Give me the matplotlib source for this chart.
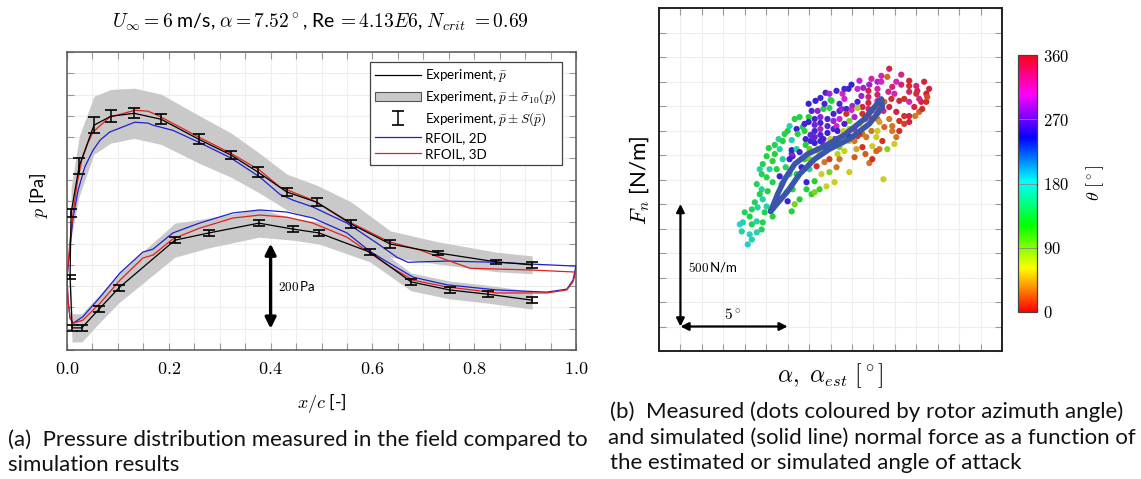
import numpy as np
import matplotlib.pyplot as plt
from matplotlib.patches import Patch
from matplotlib.lines import Line2D
from matplotlib.ticker import MultipleLocator, FuncFormatter
from matplotlib.cm import ScalarMappable
from matplotlib.colors import Normalize

plt.rcParams['font.family'] = ['Lato', 'DejaVu Sans']
plt.rcParams['mathtext.fontset'] = 'cm'

# ---- (a) pressure distribution, x/c and p [Pa] (arbitrary offset) ----
# experiment, suction side, leading edge -> trailing edge
x_exp_up = [0.008, 0.024, 0.053, 0.086, 0.132, 0.185, 0.259, 0.322, 0.375,
            0.432, 0.491, 0.558, 0.635, 0.729, 0.843, 0.914]
p_exp_up = [322, 432, 528, 549, 556, 542, 495, 458, 418, 371, 347, 296,
            249, 228, 207, 200]
sig_up = [59, 70, 68, 63, 59, 59, 56, 52, 47, 42, 40, 52, 31, 26, 23, 21]
err_up = [9, 19, 19, 14, 12, 12, 12, 9, 12, 9, 9, 9, 9, 5, 5, 7]

# experiment, pressure side, leading edge -> trailing edge
x_exp_lo = [0.006, 0.010, 0.029, 0.063, 0.102, 0.212, 0.279, 0.377, 0.444,
            0.495, 0.595, 0.676, 0.752, 0.827, 0.914]
p_exp_lo = [171, 52, 52, 96, 146, 258, 275, 298, 284, 275, 230, 160, 141,
            131, 117]
sig_lo = [35, 33, 33, 33, 35, 40, 35, 33, 26, 26, 23, 21, 21, 21, 21]
err_lo = [5, 7, 7, 7, 7, 7, 7, 7, 7, 7, 7, 7, 7, 7, 7]

# RFOIL 2D
x_rf2_up = [0.0, 0.006, 0.012, 0.022, 0.035, 0.051, 0.065, 0.084, 0.133, 0.159,
            0.169, 0.208, 0.259, 0.322, 0.379, 0.418, 0.444, 0.483, 0.550,
            0.609, 0.648, 0.670, 0.747, 0.845, 0.910, 1.0]
p_rf2_up = [169, 242, 312, 376, 430, 469, 493, 512, 535, 533, 528, 516, 488,
            451, 406, 366, 352, 336, 298, 251, 218, 206, 209, 206, 202, 197]
x_rf2_lo = [0.0, 0.002, 0.006, 0.012, 0.031, 0.065, 0.104, 0.149, 0.169, 0.208,
            0.260, 0.326, 0.379, 0.432, 0.483, 0.550, 0.595, 0.629, 0.680,
            0.747, 0.845, 0.943, 0.982, 0.994, 1.0]
p_rf2_lo = [169, 117, 75, 63, 78, 124, 181, 230, 237, 275, 298, 322, 329, 324,
            310, 275, 232, 207, 171, 153, 141, 136, 143, 164, 197]

# RFOIL 3D
x_rf3_up = [0.0, 0.006, 0.012, 0.020, 0.029, 0.041, 0.051, 0.084, 0.133, 0.159,
            0.177, 0.259, 0.322, 0.379, 0.418, 0.483, 0.556, 0.633, 0.693,
            0.747, 0.792, 0.910, 1.0]
p_rf3_up = [169, 258, 322, 392, 446, 486, 512, 547, 563, 561, 552, 500, 462,
            422, 383, 352, 300, 254, 235, 211, 192, 188, 183]
x_rf3_lo = x_rf2_lo
p_rf3_lo = [169, 117, 75, 63, 70, 110, 164, 216, 223, 261, 286, 310, 317, 312,
            298, 265, 228, 200, 164, 148, 134, 134, 141, 160, 183]

# ---- (b) normal force vs angle of attack ----
# measured: alpha [deg], Fn [N/m], rotor azimuth theta [deg]
alpha_meas = [5.02, 5.30, 4.84, 5.16, 5.49, 4.79, 5.02, 5.63, 5.30, 5.72,
              5.07, 4.79, 4.56, 4.70, 4.84, 4.47, 4.60, 5.02, 4.93, 5.30,
              4.33, 4.00, 4.23, 3.91, 4.33, 4.56, 4.84, 4.79, 4.56, 4.23,
              4.33, 4.14, 3.86, 3.77, 5.95, 6.23, 6.00, 6.33, 6.56, 6.19,
              6.88, 6.88, 7.26, 7.12, 7.26, 7.49, 7.81, 8.19, 6.65, 7.02,
              7.35, 7.72, 7.95, 7.58, 7.95, 8.28, 5.77, 6.23, 6.42, 6.19,
              6.00, 6.42, 6.47, 5.58, 5.77, 6.19, 5.40, 5.12, 5.63, 6.19,
              6.42, 6.98, 7.30, 7.53, 7.77, 8.28, 8.00, 7.95, 7.67, 6.98,
              6.98, 7.26, 7.26, 7.26, 7.26, 7.26, 7.53, 7.53, 7.53, 7.53,
              7.53, 6.84, 6.84, 7.86, 7.86, 7.86, 8.14, 8.14, 8.14, 8.42,
              8.42, 8.42, 10.74, 10.37, 10.65, 11.30, 11.67, 11.67, 12.37, 12.00,
              11.07, 11.30, 10.19, 10.37, 8.98, 9.26, 9.53, 9.77, 11.67, 12.00,
              12.47, 10.84, 11.21, 11.67, 12.23, 12.47, 10.70, 10.51, 9.77, 9.77,
              9.77, 9.77, 10.19, 10.19, 10.19, 10.19, 10.19, 10.19, 9.44, 9.26,
              9.02, 9.49, 9.49, 8.65, 8.51, 8.05, 8.74, 8.74, 11.07, 11.44,
              11.67, 12.14, 11.95, 10.74, 11.21, 11.67, 10.28, 10.51, 10.88, 11.21,
              9.67, 9.91, 10.19, 9.49, 8.88, 9.26, 9.67, 10.14, 8.28, 8.56,
              8.88, 9.49, 9.95, 10.28, 10.65, 10.42, 11.07, 10.98, 10.47, 8.88,
              9.81, 10.14, 9.12, 8.65, 8.42, 8.33, 7.77, 7.95, 8.19, 8.88,
              9.12, 9.35, 8.65, 8.98, 9.26, 6.79, 6.56, 7.02, 5.91, 6.09,
              6.70, 6.56, 7.12, 8.56, 8.84, 9.91, 12.05, 12.60, 12.51, 12.28,
              6.79, 6.79, 7.07, 7.07, 7.40, 7.67, 7.67, 7.99, 8.33, 8.33,
              8.60, 8.84, 9.12, 9.12, 9.35, 9.63, 9.91, 9.91, 10.47, 10.74,
              10.98, 11.44, 11.91, 12.14, 10.88, 9.35, 9.81, 8.65, 7.95, 7.72,
              7.40, 6.33, 6.09, 5.86, 5.40, 4.70, 6.09, 7.02, 7.49, 8.42,
              9.21, 9.63, 9.95, 10.88, 11.44]
fn_meas = [795, 775, 763, 742, 742, 722, 709, 713, 689, 681,
           652, 660, 681, 640, 619, 607, 586, 590, 566, 549,
           578, 566, 549, 525, 517, 529, 525, 496, 484, 476,
           455, 435, 488, 517, 648, 660, 611, 599, 619, 570,
           660, 689, 693, 640, 648, 660, 672, 689, 750, 742,
           754, 771, 783, 722, 730, 750, 783, 795, 722, 804,
           898, 906, 886, 865, 857, 861, 841, 828, 824, 820,
           824, 1009, 1021, 1033, 1054, 1062, 1025, 992, 988, 955,
           935, 947, 923, 898, 873, 849, 955, 931, 906, 882,
           857, 865, 841, 947, 918, 890, 968, 939, 906, 1009,
           980, 947, 1152, 1123, 1119, 1128, 1103, 1082, 1099, 1082,
           1099, 1087, 1099, 1099, 1087, 1070, 1074, 1062, 1058, 1050,
           1050, 1029, 1021, 1017, 1017, 1017, 1058, 1017, 1037, 1013,
           988, 964, 1070, 1046, 1021, 996, 972, 947, 1041, 1017,
           1000, 996, 968, 1029, 988, 1021, 988, 968, 976, 959,
           959, 976, 959, 947, 939, 935, 935, 914, 918, 898,
           918, 898, 898, 886, 906, 877, 873, 873, 918, 877,
           857, 832, 836, 824, 824, 857, 873, 845, 701, 730,
           767, 816, 791, 816, 832, 804, 824, 845, 865, 939,
           955, 927, 927, 984, 992, 783, 812, 824, 750, 722,
           914, 955, 980, 1050, 1070, 1111, 1062, 1070, 1037, 988,
           927, 898, 882, 857, 824, 865, 841, 865, 898, 865,
           898, 877, 906, 857, 886, 947, 980, 947, 980, 996,
           1050, 1029, 996, 1029, 1078, 1103, 1087, 1070, 1050, 1009,
           980, 947, 918, 886, 804, 742, 783, 783, 804, 783,
           824, 804, 783, 898, 927]
theta_meas = [130, 130, 140, 165, 130, 140, 135, 250, 140, 170,
              130, 165, 140, 135, 170, 140, 165, 170, 135, 130,
              145, 140, 135, 170, 140, 165, 135, 140, 170, 175,
              170, 185, 165, 180, 170, 130, 250, 90, 125, 130,
              130, 250, 125, 120, 90, 115, 65, 60, 250, 170,
              5, 30, 10, 65, 90, 30, 165, 250, 130, 280,
              130, 250, 130, 165, 130, 170, 135, 130, 165, 250,
              170, 250, 250, 255, 255, 255, 150, 140, 130, 130,
              250, 255, 270, 255, 265, 250, 280, 255, 290, 260,
              250, 255, 130, 255, 265, 250, 255, 285, 255, 260,
              255, 300, 350, 310, 25, 330, 355, 5, 355, 335,
              310, 335, 290, 310, 250, 305, 285, 355, 335, 5,
              0, 5, 355, 310, 355, 5, 330, 25, 340, 355,
              335, 5, 320, 340, 310, 20, 345, 30, 285, 255,
              285, 355, 5, 305, 285, 130, 255, 5, 355, 5,
              355, 25, 30, 30, 5, 355, 45, 25, 30, 5,
              60, 30, 60, 30, 80, 5, 30, 60, 305, 130,
              60, 5, 60, 30, 85, 5, 30, 60, 60, 60,
              30, 25, 20, 65, 90, 70, 60, 100, 285, 90,
              290, 65, 255, 310, 75, 125, 255, 100, 145, 160,
              140, 135, 260, 310, 250, 320, 345, 355, 15, 5,
              255, 130, 265, 255, 90, 255, 270, 60, 250, 300,
              60, 255, 300, 30, 5, 300, 340, 5, 330, 355,
              310, 5, 355, 330, 335, 300, 285, 255, 290, 255,
              280, 130, 170, 135, 130, 165, 250, 90, 70, 30,
              45, 20, 5, 30, 10]

# simulated hysteresis loop
alpha_sim = [5.21, 5.53, 5.86, 6.33, 6.93, 7.72, 8.65, 9.58, 10.37,
             10.42, 9.81, 8.88, 7.95, 7.26, 6.56, 6.00, 5.21]
fn_sim = [570, 640, 701, 763, 804, 836, 882, 947, 1029,
          996, 927, 865, 824, 783, 722, 652, 570]


def fx(px):
    return px / 1141


def fy(py):
    return 1 - py / 479


fig = plt.figure(figsize=(11.41, 4.79), dpi=100)

# ---------------- panel (a) ----------------
ax1 = fig.add_axes([fx(67), fy(350), 509 / 1141, 298 / 479])
xu, pu, su = np.array(x_exp_up), np.array(p_exp_up), np.array(sig_up)
xl, pl, sl = np.array(x_exp_lo), np.array(p_exp_lo), np.array(sig_lo)
band = '#c9c9c9'
ax1.fill_between(xu, pu - su, pu + su, color=band, lw=0, zorder=1)
ax1.fill_between(xl, pl - sl, pl + sl, color=band, lw=0, zorder=1)

x_all = np.concatenate([xu[::-1], xl])
p_all = np.concatenate([pu[::-1], pl])
e_all = np.concatenate([np.array(err_up)[::-1], err_lo])
ax1.plot(x_all, p_all, color='k', lw=0.9, zorder=4)
ax1.errorbar(x_all, p_all, yerr=e_all, fmt='none', ecolor='k', elinewidth=1.1,
             capsize=4.3, capthick=1.2, zorder=5)

c2, c3 = '#1f1fd0', '#e0201c'
ax1.plot(x_rf2_up, p_rf2_up, color=c2, lw=0.9, zorder=3)
ax1.plot(x_rf2_lo, p_rf2_lo, color=c2, lw=0.9, zorder=3)
ax1.plot(x_rf3_up, p_rf3_up, color=c3, lw=0.9, zorder=3)
ax1.plot(x_rf3_lo, p_rf3_lo, color=c3, lw=0.9, zorder=3)

ax1.set_xlim(0, 1)
ax1.set_ylim(0, 700)
ax1.xaxis.set_major_locator(MultipleLocator(0.2))
ax1.xaxis.set_minor_locator(MultipleLocator(0.05))
ax1.yaxis.set_major_locator(MultipleLocator(50))
ax1.xaxis.set_major_formatter(FuncFormatter(lambda v, _: f'${v:.1f}$'))
ax1.tick_params(which='both', direction='in', top=True, right=True, length=5,
                width=0.8, color='#999999', labelleft=False, labelsize=13, pad=8)
ax1.grid(which='both', color='#eeeeee', lw=0.8)
ax1.set_axisbelow(True)
for s in ax1.spines.values():
    s.set_color('#555555')
    s.set_linewidth(1.1)

ax1.annotate('', xy=(0.40, 250), xytext=(0.40, 50),
             arrowprops=dict(arrowstyle='<|-|>', color='k', lw=2.4,
                             mutation_scale=16, shrinkA=0, shrinkB=0))
ax1.text(0.415, 150, r'$200\,$Pa', fontsize=9.5, va='center', ha='left')

handles = [Line2D([], [], color='k', lw=0.9),
           Patch(facecolor=band, edgecolor='#555555', lw=0.8),
           ax1.containers[0],
           Line2D([], [], color=c2, lw=0.9),
           Line2D([], [], color=c3, lw=0.9)]
labels = [r'Experiment, $\bar{p}$',
          r'Experiment, $\bar{p}\pm\bar{\sigma}_{10}(p)$',
          r'Experiment, $\bar{p}\pm S(\bar{p})$',
          'RFOIL, 2D', 'RFOIL, 3D']
leg = ax1.legend(handles, labels, loc='upper right',
                 bbox_to_anchor=(0.972, 0.966), fontsize=9.6, fancybox=False,
                 framealpha=1, edgecolor='#444444', handlelength=3.4,
                 labelspacing=0.3, borderaxespad=0, handletextpad=0.3,
                 borderpad=0.4)
leg.get_frame().set_linewidth(0.9)

fig.text(fx(320), fy(22), r'$U_\infty = 6$ m/s, $\alpha = 7.52^\circ$, '
         r'Re$\,= 4.13E6$, $N_{crit}\ = 0.69$', fontsize=14, ha='center',
         va='center')
fig.text(fx(322), fy(403), r'$x/c$ [-]', fontsize=13, ha='center', va='center')
fig.text(fx(38), fy(195), r'$p$ [Pa]', fontsize=13, ha='center', va='center',
         rotation=90)

# ---------------- panel (b) ----------------
ax2 = fig.add_axes([fx(659), fy(351), 343 / 1141, 343 / 479])
norm = Normalize(0, 360)
cmap = plt.get_cmap('hsv')
dot_rgb = cmap(norm(np.array(theta_meas)))[:, :3] * 0.68 + 0.14
ax2.scatter(alpha_meas, fn_meas, c=dot_rgb, s=20, lw=0, zorder=2)
ax2.plot(alpha_sim, fn_sim, color='#3a56a8', lw=4, solid_joinstyle='round',
         solid_capstyle='round', zorder=3)
ax2.set_xlim(0, 16)
ax2.set_ylim(0, 1400)
ax2.xaxis.set_major_locator(MultipleLocator(1))
ax2.yaxis.set_major_locator(MultipleLocator(100))
ax2.tick_params(direction='in', top=True, right=True, length=5, width=0.8,
                color='#999999', labelleft=False, labelbottom=False)
ax2.grid(color='#eeeeee', lw=0.8)
ax2.set_axisbelow(True)
for s in ax2.spines.values():
    s.set_color('#222222')
    s.set_linewidth(1.4)

arr = dict(arrowstyle='<|-|>', color='k', lw=1.6, mutation_scale=12,
           shrinkA=0, shrinkB=0)
ax2.annotate('', xy=(1, 600), xytext=(1, 100), arrowprops=arr)
ax2.annotate('', xy=(6, 100), xytext=(1, 100), arrowprops=arr)
ax2.text(1.35, 344, r'$500\,$N/m', fontsize=9.5, ha='left', va='center')
ax2.text(3.45, 150, r'$5^\circ$', fontsize=11, ha='center', va='center')

fig.text(fx(830), fy(376), r'$\alpha,\ \alpha_{est}\ [^\circ]$', fontsize=17,
         ha='center', va='center')
fig.text(fx(640), fy(180), r'$F_n$ [N/m]', fontsize=16, ha='center',
         va='center', rotation=90)

cax = fig.add_axes([fx(1018), fy(312), 19 / 1141, 257 / 479])
cb = fig.colorbar(ScalarMappable(norm=norm, cmap=cmap), cax=cax,
                  ticks=[0, 90, 180, 270, 360])
cb.ax.set_yticklabels([f'${t}$' for t in [0, 90, 180, 270, 360]], fontsize=12)
cb.ax.tick_params(direction='in', length=13, width=0.6, color='#888888', pad=4)
cb.outline.set_edgecolor('#444444')
cb.outline.set_linewidth(0.9)
fig.text(fx(1095), fy(183), r'$\theta\ [^\circ]$', fontsize=13, ha='center',
         va='center', rotation=90)

# ---------------- captions ----------------
cap = dict(fontsize=16, ha='left', va='center', color='#111111')
fig.text(fx(8), fy(440), '(a)  Pressure distribution measured in the field compared to', **cap)
fig.text(fx(8), fy(465), 'simulation results', **cap)
fig.text(fx(610), fy(412), '(b)  Measured (dots coloured by rotor azimuth angle)', **cap)
fig.text(fx(608), fy(438), 'and simulated (solid line) normal force as a function of', **cap)
fig.text(fx(610), fy(463), 'the estimated or simulated angle of attack', **cap)

fig.savefig('out.png', dpi=100)
